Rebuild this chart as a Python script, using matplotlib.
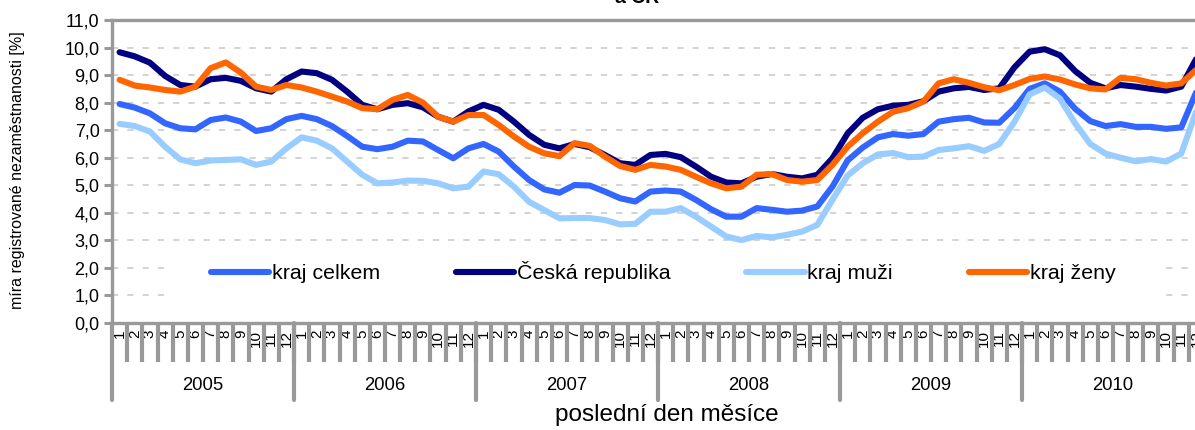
import matplotlib
matplotlib.use('Agg')
import matplotlib.pyplot as plt
import matplotlib.transforms as mtransforms
from matplotlib.patches import Rectangle
from matplotlib.ticker import FuncFormatter
import numpy as np

years = ['2005', '2006', '2007', '2008', '2009', '2010']
months = [str(m) for m in range(1, 13)]

kraj_celkem = [
    7.95, 7.82, 7.61, 7.25, 7.07, 7.03, 7.37, 7.46, 7.31, 6.97, 7.07, 7.40,
    7.52, 7.40, 7.15, 6.79, 6.40, 6.31, 6.40, 6.62, 6.59, 6.28, 5.98, 6.34,
    6.50, 6.22, 5.68, 5.19, 4.85, 4.73, 5.01, 4.99, 4.77, 4.53, 4.41, 4.77,
    4.81, 4.77, 4.47, 4.13, 3.86, 3.86, 4.17, 4.11, 4.04, 4.08, 4.23, 4.95,
    5.90, 6.37, 6.74, 6.86, 6.80, 6.86, 7.31, 7.40, 7.45, 7.28, 7.27, 7.80,
    8.50, 8.70, 8.40, 7.78, 7.33, 7.15, 7.22, 7.12, 7.12, 7.05, 7.10, 8.40]

ceska_republika = [
    9.83, 9.68, 9.45, 8.97, 8.64, 8.58, 8.85, 8.90, 8.79, 8.52, 8.40, 8.85,
    9.13, 9.07, 8.83, 8.40, 7.92, 7.76, 7.92, 7.98, 7.83, 7.49, 7.31, 7.68,
    7.92, 7.74, 7.31, 6.83, 6.47, 6.34, 6.50, 6.38, 6.10, 5.80, 5.74, 6.10,
    6.14, 6.02, 5.68, 5.31, 5.10, 5.07, 5.31, 5.41, 5.31, 5.25, 5.38, 5.98,
    6.88, 7.45, 7.76, 7.89, 7.92, 8.05, 8.40, 8.52, 8.57, 8.46, 8.52, 9.28,
    9.85, 9.94, 9.72, 9.15, 8.72, 8.52, 8.64, 8.58, 8.50, 8.44, 8.58, 9.60]

kraj_muzi = [
    7.23, 7.15, 6.95, 6.40, 5.94, 5.80, 5.90, 5.92, 5.94, 5.74, 5.86, 6.34,
    6.74, 6.62, 6.34, 5.86, 5.38, 5.07, 5.10, 5.17, 5.16, 5.07, 4.89, 4.95,
    5.50, 5.40, 4.95, 4.40, 4.10, 3.80, 3.81, 3.81, 3.74, 3.58, 3.60, 4.04,
    4.04, 4.17, 3.86, 3.50, 3.14, 3.01, 3.16, 3.11, 3.20, 3.32, 3.56, 4.47,
    5.35, 5.80, 6.12, 6.17, 6.02, 6.04, 6.28, 6.34, 6.42, 6.25, 6.50, 7.30,
    8.30, 8.55, 8.15, 7.25, 6.50, 6.15, 6.00, 5.87, 5.95, 5.86, 6.15, 7.70]

kraj_zeny = [
    8.83, 8.62, 8.55, 8.46, 8.40, 8.58, 9.25, 9.46, 9.09, 8.58, 8.46, 8.64,
    8.55, 8.40, 8.22, 8.04, 7.80, 7.76, 8.10, 8.28, 8.00, 7.49, 7.31, 7.55,
    7.55, 7.19, 6.77, 6.40, 6.16, 6.06, 6.53, 6.43, 6.04, 5.70, 5.56, 5.74,
    5.68, 5.56, 5.31, 5.07, 4.89, 4.95, 5.38, 5.41, 5.19, 5.13, 5.19, 5.74,
    6.40, 6.89, 7.31, 7.67, 7.80, 8.04, 8.70, 8.85, 8.72, 8.56, 8.45, 8.64,
    8.86, 8.95, 8.84, 8.66, 8.52, 8.48, 8.90, 8.85, 8.72, 8.62, 8.70, 9.20]

plt.rcParams['font.family'] = ['Liberation Sans', 'DejaVu Sans']
plt.rcParams['lines.scale_dashes'] = False

W, H = 1195, 430
GRAY = '#999999'
fig = plt.figure(figsize=(W / 100, H / 100), dpi=100)
ax = fig.add_axes([112 / W, (H - 323) / H, 1092 / W, 303 / H])

n = len(years) * 12
x = np.arange(n)
series = [
    (kraj_celkem, '#3366FF', 'kraj celkem'),
    (ceska_republika, '#000080', 'Česká republika'),
    (kraj_muzi, '#99CCFF', 'kraj muži'),
    (kraj_zeny, '#FF6600', 'kraj ženy'),
]
for vals, col, lab in series:
    ax.plot(x, vals, color=col, lw=4.4, label=lab, solid_joinstyle='round',
            solid_capstyle='round', zorder=3)

ax.set_xlim(-0.5, n - 0.5)
ax.set_ylim(0, 11)
ax.set_yticks(np.arange(0, 12))
ax.yaxis.set_major_formatter(FuncFormatter(lambda v, p: f'{v:.1f}'.replace('.', ',')))
ax.tick_params(axis='y', length=6, width=2.2, color=GRAY, labelsize=13, pad=3)

for yv in range(1, 11):
    ax.axhline(yv, color='#C8C8C8', lw=1.1, ls=(0, (4.5, 6.5)), zorder=1)

ax.set_xticks(x)
ax.set_xticklabels(months * len(years), rotation=90, fontsize=11)
ax.tick_params(axis='x', which='major', length=0, pad=5)
ax.set_xticks(np.arange(0.5, n - 1, 1), minor=True)
ax.tick_params(axis='x', which='minor', length=28, width=3, color=GRAY)

for s in ['left', 'top', 'bottom']:
    ax.spines[s].set_color(GRAY)
    ax.spines[s].set_linewidth(2.4)
ax.spines['right'].set_visible(False)

trans = mtransforms.blended_transform_factory(ax.transData, ax.transAxes)
for k in range(len(years) + 1):
    xb = k * 12 - 0.5
    ax.plot([xb, xb], [0, -77 / 303], transform=trans, color=GRAY, lw=3,
            clip_on=False, solid_capstyle='round')
for k, yr in enumerate(years):
    ax.text(k * 12 + 5.5, -62 / 303, yr, transform=trans, ha='center',
            va='center', fontsize=13.3)

ax.add_patch(Rectangle((53 / 1092, 23 / 303), 997 / 1092, 50 / 303,
                       transform=ax.transAxes, facecolor='white',
                       edgecolor='none', zorder=2))
ax.legend(loc='center', bbox_to_anchor=(551 / 1092, 51 / 303), ncol=4,
          frameon=False, fontsize=15.4, handlelength=2.75, handletextpad=0.1,
          columnspacing=3.55)

fig.text(667 / W, 1 - 415 / H, 'poslední den měsíce', ha='center',
         va='center', fontsize=17.5)
fig.text(18 / W, 1 - 170 / H, 'míra registrované nezaměstnanosti [%]',
         rotation=90, ha='center', va='center', fontsize=11.5)
fig.text(637 / W, 1 - 3 / H, 'a ČR', ha='center', va='baseline',
         fontsize=14, fontweight='bold')

fig.savefig('out.png', dpi=100)
